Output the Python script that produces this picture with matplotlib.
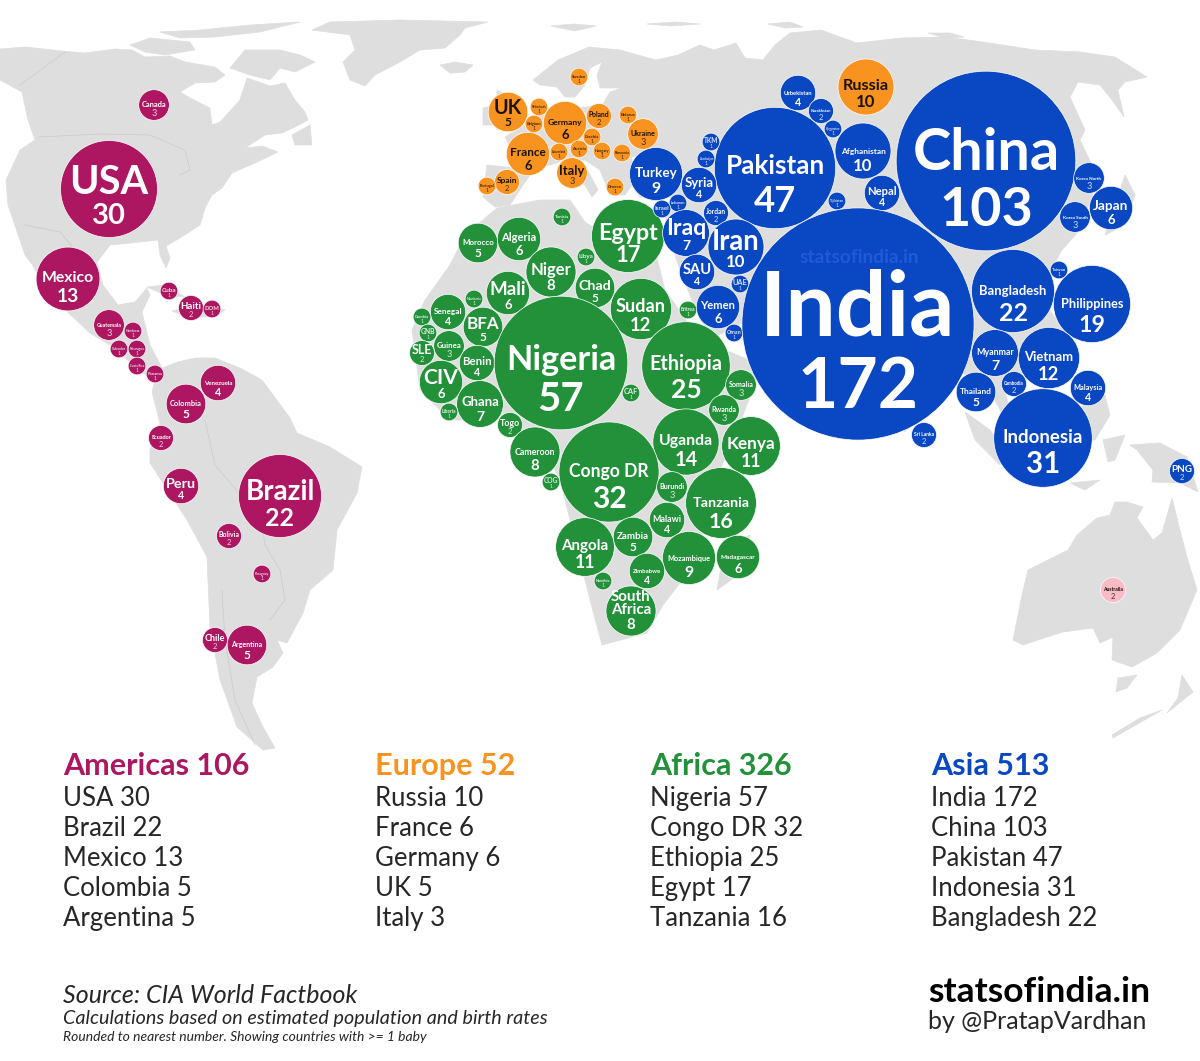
import matplotlib
matplotlib.use("Agg")
import matplotlib.pyplot as plt
from matplotlib.patches import Polygon, Circle
from matplotlib.font_manager import FontProperties
from matplotlib.textpath import TextPath

plt.rcParams['font.family'] = ['Lato', 'DejaVu Sans']

# births per country, bubble centres are in map coordinates (1200 x 1061 map)
americas_names = ['Canada', 'USA', 'Mexico', 'Cuba', 'Haiti', 'DOM', 'Guatemala', 'Honduras', 'Salvador', 'Nicaragua',
                  'Costa Rica', 'Panama', 'Venezuela', 'Colombia', 'Ecuador', 'Peru', 'Brazil', 'Bolivia', 'Paraguay',
                  'Chile', 'Argentina']
americas_values = [3, 30, 13, 1, 2, 1, 3, 1, 1, 1, 1, 1, 4, 5, 2, 4, 22, 2, 1, 2, 5]
americas_x = [154, 109, 68, 169, 191, 212, 109, 133, 119, 137, 137, 155, 218, 186, 161, 181, 280, 229, 262, 215, 247]
americas_y = [105, 189, 279, 291, 308, 309, 325, 331, 349, 349, 366, 374, 383, 404, 438, 486, 496, 536, 574, 640, 645]

europe_names = ['Russia', 'Sweden', 'UK', 'Netherlands', 'Belgium', 'Germany', 'Poland', 'Belarus', 'Czechia', 'Ukraine',
                'France', 'Switzerland', 'Austria', 'Hungary', 'Romania', 'Italy', 'Spain', 'Portugal', 'Greece']
europe_values = [10, 1, 5, 1, 1, 6, 2, 1, 1, 3, 6, 1, 1, 1, 1, 3, 2, 1, 1]
europe_x = [866, 579, 508, 539, 534, 565, 599, 628, 592, 643, 528, 559, 579, 602, 622, 572, 507, 487, 615]
europe_y = [87, 77, 112, 107, 124, 123, 116, 115, 137, 134, 154, 152, 149, 151, 153, 173, 182, 186, 187]

africa_names = ['Tunisia', 'Morocco', 'Algeria', 'Niger', 'Libya', 'Egypt', 'Chad', 'Sudan', 'Mali', 'Mauritania',
                'Senegal', 'Gambia', 'BFA', 'GNB', 'Guinea', 'SLE', 'Benin', 'CIV', 'Ghana', 'Liberia', 'Togo',
                'Nigeria', 'Cameroon', 'CAF', 'Ethiopia', 'Eritrea', 'Somalia', 'Rwanda', 'Uganda', 'Kenya', 'Congo DR',
                'COG', 'Burundi', 'Tanzania', 'Malawi', 'Zambia', 'Angola', 'Mozambique', 'Madagascar', 'Zimbabwe',
                'Namibia', 'South\nAfrica']
africa_values = [1, 5, 6, 8, 1, 17, 5, 12, 6, 1, 4, 1, 5, 1, 3, 2, 4, 6, 7, 1, 2, 57, 8, 1, 25, 1, 3, 3, 14, 11, 32, 1,
                 3, 16, 4, 5, 11, 9, 6, 4, 1, 8]
africa_x = [562, 478, 519, 551, 586, 628, 595, 641, 508, 474, 448, 422, 483, 428, 449, 422, 477, 441, 480, 449, 510,
            561, 535, 631, 686, 688, 741, 724, 686, 751, 609, 551, 672, 721, 667, 633, 585, 689, 738, 647, 603, 631]
africa_y = [217, 243, 239, 272, 257, 236, 288, 309, 293, 299, 312, 317, 327, 333, 346, 353, 363, 382, 404, 412, 425,
            363, 452, 393, 366, 310, 385, 410, 442, 446, 472, 482, 487, 503, 520, 537, 547, 558, 557, 571, 581, 611]

asia_names = ['Uzbekistan', 'Kazakhstan', 'Kyrgyzstan', 'Afghanistan', 'Pakistan', 'China', 'Nepal', 'Turkey', 'TKM',
              'Azerbaijan', 'Syria', 'Lebanon', 'Israel', 'Jordan', 'Tajikistan', 'Iraq', 'Iran', 'SAU', 'UAE', 'Yemen',
              'Oman', 'India', 'Bangladesh', 'Philippines', 'Taiwan', 'Korea North', 'Japan', 'Korea South', 'Myanmar',
              'Vietnam', 'Thailand', 'Cambodia', 'Malaysia', 'Indonesia', 'Sri Lanka', 'PNG']
asia_values = [4, 2, 1, 10, 47, 103, 4, 9, 1, 1, 4, 1, 1, 2, 1, 7, 10, 4, 1, 6, 1, 172, 22, 19, 1, 3, 6, 3, 7, 12, 5, 2,
               4, 31, 2, 2]
asia_x = [798, 821, 833, 863, 775, 986, 882, 656, 711, 706, 699, 678, 662, 716, 837, 686, 736, 697, 740, 718, 734, 858,
          1013, 1092, 1059, 1089, 1111, 1075, 995, 1049, 976, 1014, 1088, 1043, 924, 1182]
asia_y = [93, 111, 129, 151, 168, 161, 193, 174, 142, 159, 185, 203, 209, 213, 201, 233, 247, 272, 284, 307, 333, 324,
          291, 304, 270, 178, 208, 217, 353, 358, 392, 384, 388, 438, 435, 471]

oceania_names = ['Australia']
oceania_values = [2]
oceania_x = [1113]
oceania_y = [590]

# legend columns
legend_titles = ['Americas 106', 'Europe 52', 'Africa 326', 'Asia 513']
legend_rows = [['USA 30', 'Brazil 22', 'Mexico 13', 'Colombia 5', 'Argentina 5'],
               ['Russia 10', 'France 6', 'Germany 6', 'UK 5', 'Italy 3'],
               ['Nigeria 57', 'Congo DR 32', 'Ethiopia 25', 'Egypt 17', 'Tanzania 16'],
               ['India 172', 'China 103', 'Pakistan 47', 'Indonesia 31', 'Bangladesh 22']]

# land outlines, map coordinates
north_america = [(0, 49), (25, 47), (62, 51), (85, 53), (115, 49), (132, 50), (145, 57), (170, 56), (185, 62), (215, 67),
                 (225, 75), (215, 82), (195, 83), (180, 92), (190, 98), (210, 108), (212, 125), (220, 122), (240, 100),
                 (247, 78), (270, 86), (285, 83), (295, 100), (305, 112), (308, 120), (295, 127), (282, 133), (265, 135),
                 (245, 148), (262, 146), (278, 152), (255, 163), (232, 173), (222, 188), (212, 195), (205, 208),
                 (200, 225), (180, 238), (166, 246), (170, 258), (166, 268), (160, 255), (158, 240), (130, 243),
                 (110, 245), (97, 262), (103, 285), (118, 305), (135, 302), (147, 288), (150, 295), (142, 312),
                 (150, 345), (162, 368), (178, 362), (195, 358), (215, 358), (240, 368), (262, 380), (290, 418),
                 (297, 433), (330, 447), (362, 467), (357, 493), (337, 530), (333, 570), (310, 590), (303, 613),
                 (287, 643), (277, 640), (283, 653), (273, 667), (257, 677), (252, 703), (263, 727), (275, 748),
                 (263, 750), (237, 727), (220, 680), (210, 627), (207, 557), (187, 520), (150, 463), (150, 450),
                 (160, 423), (152, 392), (155, 380), (140, 372), (115, 348), (90, 333), (60, 305), (35, 270), (25, 240),
                 (34, 258), (38, 272), (25, 255), (8, 205), (6, 180), (20, 150), (35, 140), (28, 120), (22, 92), (0, 80)]
greenland = [(312, 30), (330, 22), (400, 20), (488, 22), (465, 28), (460, 35), (445, 48), (420, 50), (400, 62), (375, 75),
             (365, 86), (350, 80), (343, 62), (355, 50), (350, 35)]
baffin = [(230, 68), (245, 50), (280, 50), (300, 55), (315, 62), (295, 72), (280, 68), (270, 80), (250, 75)]
victoria = [(130, 45), (150, 38), (190, 42), (195, 50), (165, 55), (145, 52)]
queen_elizabeth = [(160, 32), (200, 30), (250, 25), (300, 22), (260, 32), (215, 37), (180, 38)]
iceland = [(440, 65), (455, 62), (473, 65), (465, 72), (450, 73)]
newfoundland = [(292, 135), (310, 125), (312, 145), (295, 145)]
cuba = [(147, 287), (165, 285), (185, 297), (165, 295)]
hispaniola = [(172, 311), (200, 305), (225, 310), (215, 316), (190, 318)]
eurasia = [(487, 165), (517, 168), (512, 150), (505, 137), (525, 125), (548, 108), (560, 104), (580, 108), (603, 104),
           (610, 92), (622, 88), (600, 88), (597, 75), (602, 62), (590, 68), (585, 85), (575, 97), (565, 97), (557, 87),
           (540, 85), (533, 80), (558, 60), (589, 47), (620, 50), (656, 60), (678, 55), (700, 45), (714, 50), (736, 43),
           (745, 58), (763, 60), (775, 45), (790, 33), (821, 30), (857, 43), (901, 38), (946, 37), (990, 43), (1035, 50),
           (1080, 52), (1115, 57), (1147, 77), (1125, 82), (1118, 90), (1124, 117), (1112, 100), (1100, 85), (1078, 82),
           (1070, 97), (1085, 130), (1080, 140), (1092, 165), (1093, 195), (1078, 232), (1062, 250), (1052, 268),
           (1035, 292), (1065, 330), (1070, 352), (1040, 378), (1030, 372), (1018, 395), (1005, 392), (1015, 430),
           (1005, 420), (985, 380), (965, 375), (950, 355), (905, 432), (835, 340), (812, 290), (770, 285), (760, 310),
           (748, 320), (715, 337), (700, 320), (680, 270), (665, 225), (668, 205), (680, 198), (640, 197), (632, 185),
           (625, 195), (610, 195), (600, 170), (585, 160), (565, 160), (550, 165), (535, 168), (523, 185), (510, 205),
           (495, 207), (483, 197)]
italy = [(570, 158), (585, 165), (598, 190), (592, 197), (585, 185), (565, 172)]
ireland = [(483, 108), (495, 105), (495, 125), (483, 125)]
britain = [(497, 90), (515, 100), (520, 125), (497, 130)]
svalbard = [(551, 26), (575, 24), (596, 26), (575, 31)]
franz_josef = [(647, 24), (675, 22), (700, 24), (670, 26)]
severnaya = [(768, 24), (790, 22), (803, 27), (785, 28)]
new_siberia = [(928, 33), (950, 33), (964, 37), (945, 38)]
africa = [(497, 208), (540, 200), (570, 200), (585, 222), (600, 232), (625, 235), (650, 230), (665, 290), (700, 340),
          (762, 365), (745, 410), (720, 470), (700, 540), (690, 570), (663, 605), (647, 633), (602, 645), (590, 600),
          (575, 540), (560, 480), (540, 440), (500, 420), (450, 420), (420, 390), (412, 330), (425, 300), (450, 265),
          (465, 235)]
madagascar = [(725, 545), (750, 535), (745, 570), (717, 590)]
sumatra = [(965, 412), (990, 430), (1010, 460), (1000, 465), (975, 440)]
borneo = [(1075, 410), (1105, 395), (1110, 415), (1095, 440), (1080, 440)]
sulawesi = [(1103, 440), (1125, 435), (1115, 460), (1108, 462)]
timor = [(1070, 483), (1100, 480), (1085, 490)]
japan = [(1125, 175), (1135, 195), (1125, 225), (1105, 235), (1115, 205)]
new_guinea = [(1130, 445), (1160, 443), (1187, 457), (1198, 492), (1180, 483), (1152, 482), (1153, 470), (1137, 450)]
australia = [(1013, 640), (1022, 595), (1028, 570), (1068, 550), (1077, 535), (1097, 518), (1110, 515), (1115, 502),
             (1127, 502), (1143, 507), (1137, 518), (1153, 540), (1162, 533), (1172, 498), (1180, 530), (1187, 557),
             (1197, 590), (1180, 630), (1157, 653), (1132, 667), (1112, 660), (1113, 637), (1100, 643), (1093, 628),
             (1063, 632), (1047, 637), (1023, 645)]
tasmania = [(1118, 678), (1137, 675), (1127, 688), (1116, 692)]
nz_north = [(1182, 675), (1193, 692), (1167, 713), (1178, 698)]
nz_south = [(1162, 710), (1113, 738), (1112, 735), (1140, 718)]
land = [north_america, greenland, baffin, victoria, queen_elizabeth, iceland, newfoundland, cuba, hispaniola, eurasia,
        italy, ireland, britain, svalbard, franz_josef, severnaya, new_siberia, africa, madagascar, sumatra, borneo,
        sulawesi, timor, japan, new_guinea, australia, tasmania, nz_north, nz_south]

black_sea = [(632, 158), (650, 150), (668, 160), (650, 168), (635, 168)]
seas = [black_sea]

# a few border lines
us_canada = [(38, 137), (100, 134), (150, 135), (185, 150), (190, 170), (180, 175)]
alaska = [(20, 85), (65, 52)]
us_mexico = [(25, 225), (60, 232), (75, 250)]
brazil_west = [(205, 420), (215, 465), (245, 500), (262, 525), (265, 545), (280, 570), (285, 600), (270, 620)]
argentina_chile = [(222, 590), (225, 640), (235, 700), (255, 745)]
borders = [us_canada, alaska, us_mexico, brazil_west, argentina_chile]

magenta = '#AD1660'
orange = '#F7931E'
green = '#22913A'
blue = '#0A47C2'
pink = '#F9BBC6'
dark = '#1C1208'
land_color = '#DEDEDE'
ink = '#262626'


def em_width(text, weight='bold'):
    fp = FontProperties(family='Lato', weight=weight)
    widest = 0
    for line in text.split('\n'):
        widest = max(widest, TextPath((0, 0), line, size=1, prop=fp).get_extents().width)
    return widest


def px_to_pt(px):
    return px * 0.72


def draw_bubble(ax, name, value, x, y, color, text_color):
    r = 8.85 * value ** 0.5
    ax.add_patch(Circle((x, y), r, facecolor=color, edgecolor='white', linewidth=0.5, zorder=3))
    label_em = min(1.58 * r / em_width(name), r)
    ax.text(x, y + 0.1 * r, name, color=text_color, fontsize=px_to_pt(label_em), fontweight='bold',
            ha='center', va='baseline', linespacing=0.85, alpha=0.85 if value < 2 else 1, zorder=4)
    ax.text(x, y + 0.72 * r, str(value), color=text_color, fontsize=px_to_pt(0.6 * r),
            fontweight='bold' if value > 3 else 'normal', ha='center', va='baseline',
            alpha=0.8 if value < 4 else 1, zorder=4)


fig = plt.figure(figsize=(12, 10.61), dpi=100)
ax = fig.add_axes([0, 0, 1, 1])
ax.set_xlim(0, 1200)
ax.set_ylim(1061, 0)
ax.axis('off')

for shape in land:
    ax.add_patch(Polygon(shape, closed=True, facecolor=land_color, edgecolor=land_color, linewidth=0.5, zorder=1))
for shape in seas:
    ax.add_patch(Polygon(shape, closed=True, facecolor='white', edgecolor='white', linewidth=0.5, zorder=1.5))
for line in borders:
    ax.plot([p[0] for p in line], [p[1] for p in line], color='#CACACA', linewidth=0.5, zorder=2)

for i, name in enumerate(americas_names):
    draw_bubble(ax, name, americas_values[i], americas_x[i], americas_y[i], magenta, 'white')
for i, name in enumerate(europe_names):
    draw_bubble(ax, name, europe_values[i], europe_x[i], europe_y[i], orange, dark)
for i, name in enumerate(africa_names):
    draw_bubble(ax, name, africa_values[i], africa_x[i], africa_y[i], green, 'white')
for i, name in enumerate(asia_names):
    draw_bubble(ax, name, asia_values[i], asia_x[i], asia_y[i], blue, 'white')
for i, name in enumerate(oceania_names):
    draw_bubble(ax, name, oceania_values[i], oceania_x[i], oceania_y[i], pink, dark)

# watermark on the India bubble
ax.text(859, 263, 'statsofindia.in', color='#2259DA', fontsize=px_to_pt(118 / em_width('statsofindia.in')),
        fontweight='bold', ha='center', va='baseline', zorder=4)

# legend
column_x = [63, 375, 650, 931]
column_colors = [magenta, orange, green, blue]
for col, title in enumerate(legend_titles):
    ax.text(column_x[col], 775, title, color=column_colors[col], fontsize=22, fontweight='bold', ha='left', va='baseline')
    for row, entry in enumerate(legend_rows[col]):
        ax.text(column_x[col], 806 + 30 * row, entry, color=ink, fontsize=18.5, ha='left', va='baseline')

# footer
ax.text(63, 1003, 'Source: CIA World Factbook', color=ink, fontsize=18, style='italic', va='baseline')
ax.text(63, 1024, 'Calculations based on estimated population and birth rates', color=ink, fontsize=14.2,
        style='italic', va='baseline')
ax.text(63, 1041, 'Rounded to nearest number. Showing countries with >= 1 baby', color=ink, fontsize=10,
        style='italic', va='baseline')
ax.text(928, 1002, 'statsofindia.in', color='black', fontsize=px_to_pt(219 / em_width('statsofindia.in', 'bold')),
        fontweight='bold', va='baseline')
ax.text(928, 1029, 'by @PratapVardhan', color=ink, fontsize=18, va='baseline')

fig.savefig('out.png', dpi=100)
